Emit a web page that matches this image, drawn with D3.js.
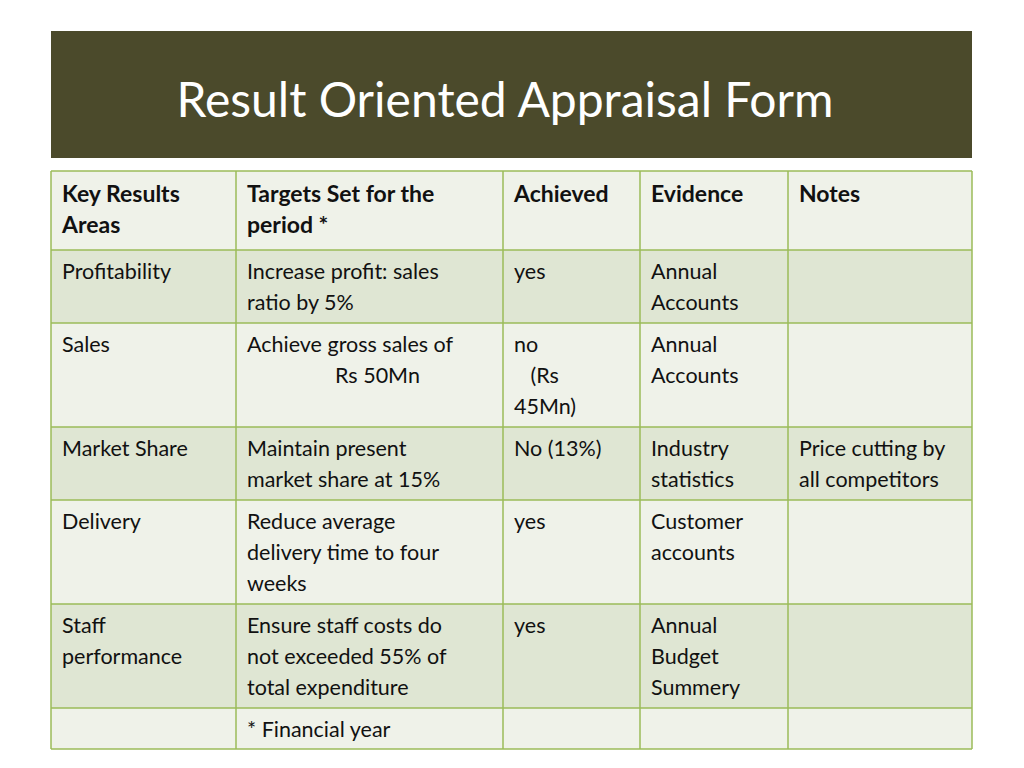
<!DOCTYPE html>
<html><head><meta charset="utf-8">
<script src="https://cdn.jsdelivr.net/npm/d3@7"></script>
<style>body{margin:0;background:#fff}svg{display:block}</style>
</head><body>
<script>
const title = "Result Oriented Appraisal Form";
const headers = [["Key Results","Areas"],["Targets Set for the","period *"],["Achieved"],["Evidence"],["Notes"]];
const rows = [
 [["Profitability"],["Increase profit: sales","ratio by 5%"],["yes"],["Annual","Accounts"],[]],
 [["Sales"],["Achieve gross sales of","\u00a0\u00a0\u00a0\u00a0\u00a0\u00a0\u00a0\u00a0\u00a0\u00a0\u00a0\u00a0\u00a0\u00a0\u00a0\u00a0Rs 50Mn"],["no","\u00a0\u00a0\u00a0(Rs","45Mn)"],["Annual","Accounts"],[]],
 [["Market Share"],["Maintain present","market share at 15%"],["No (13%)"],["Industry","statistics"],["Price cutting by","all competitors"]],
 [["Delivery"],["Reduce average","delivery time to four","weeks"],["yes"],["Customer","accounts"],[]],
 [["Staff","performance"],["Ensure staff costs do","not exceeded 55% of","total expenditure"],["yes"],["Annual","Budget","Summery"],[]],
 [[],["* Financial year"],[],[],[]]
];
const colEdges = [51,236,503,640,788,972];
const rowEdges = [171,250,323,427,500,604,708,749];
const svg = d3.select("body").append("svg").attr("width",1024).attr("height",768);
svg.append("rect").attr("x",51).attr("y",31).attr("width",921).attr("height",127).attr("fill","#4b4a2b");
svg.append("text").attr("x",505).attr("y",117).attr("text-anchor","middle").attr("fill","#fff")
 .attr("font-family","Lato, sans-serif").attr("font-size",48).text(title);
const all = [headers, ...rows];
all.forEach((r,i)=>{
 const y0=rowEdges[i], y1=rowEdges[i+1];
 svg.append("rect").attr("x",51).attr("y",y0).attr("width",921).attr("height",y1-y0)
  .attr("fill", i%2===1 ? "#dfe6d3" : "#eff2e9");
 r.forEach((cell,j)=>{
  const t = svg.append("text").attr("font-family","Lato, sans-serif")
   .attr("font-size", i===0?23:21.5).attr("font-weight", i===0?"bold":"normal").attr("fill","#111");
  cell.forEach((ln,k)=>t.append("tspan").attr("x",colEdges[j]+11).attr("y",y0+(i===0?31:29)+k*31).text(ln));
 });
});
const g = svg.append("g").attr("stroke","#9bbb59").attr("stroke-width",1.5);
rowEdges.forEach(y=>g.append("line").attr("x1",51).attr("x2",972).attr("y1",y).attr("y2",y));
colEdges.forEach(x=>g.append("line").attr("x1",x).attr("x2",x).attr("y1",171).attr("y2",749));
</script>
</body></html>
